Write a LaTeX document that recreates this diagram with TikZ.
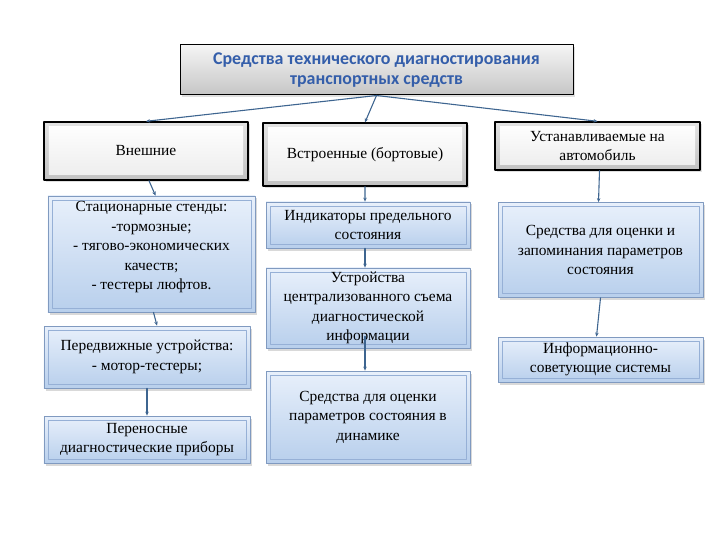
\documentclass[tikz,border=0pt]{standalone}
\usepackage{fontspec}
\setmainfont{Liberation Serif}
\newfontfamily\titlefont{Carlito}
\usetikzlibrary{arrows.meta,calc,positioning,shadows}
\definecolor{linkblue}{RGB}{62,101,144}
\definecolor{titleblue}{RGB}{52,94,170}
\definecolor{itemtop}{RGB}{232,240,251}
\definecolor{itembottom}{RGB}{184,207,236}
\definecolor{itemedge}{RGB}{128,154,192}
\definecolor{itemline}{RGB}{150,176,214}
\tikzset{
  every picture/.append style={line cap=round,line join=round},
  diag title/.style={draw=black,line width=1pt,top color=gray!8,bottom color=gray!45,
    inner sep=0pt,align=center,text=titleblue,
    font=\titlefont\bfseries\fontsize{18}{20.5}\selectfont,
    drop shadow={shadow xshift=2bp,shadow yshift=-2bp,opacity=0.25}},
  diag group/.style={draw=black,line width=1.4pt,top color=gray!22,bottom color=gray!48,
    inner sep=0pt,align=center,font=\fontsize{15.5}{19.5}\selectfont,
    drop shadow={shadow xshift=2bp,shadow yshift=-2bp,opacity=0.25},
    path picture={\shade[top color=white,bottom color=gray!15]
      ($(path picture bounding box.north west)+(5,5)$) rectangle
      ($(path picture bounding box.south east)+(-5,-5)$);}},
  diag item/.style={draw=itemedge,line width=0.8pt,top color=itemtop,bottom color=itembottom,
    inner sep=0pt,align=center,font=\fontsize{15.5}{19.5}\selectfont,
    drop shadow={shadow xshift=2bp,shadow yshift=-2.5bp,opacity=0.3},
    path picture={\draw[itemline,line width=0.8pt]
      ($(path picture bounding box.north west)+(4,4)$) rectangle
      ($(path picture bounding box.south east)+(-4,-4)$);}},
  diag link/.style={linkblue,line width=1.1pt,-{Stealth[length=4bp,width=3.5bp]}}
}
\begin{document}
\begin{tikzpicture}[x=1bp,y=-1bp]
  \useasboundingbox (0,0) rectangle (720,540);
  \node[diag title,minimum width=393bp,minimum height=50bp] (title) at (376.5,70)
    {Средства технического диагностирования\\транспортных средств};
  \node[diag group,minimum width=204bp,minimum height=58bp] (ext) at (146,151) {Внешние};
  \node[diag group,minimum width=204bp,minimum height=63bp] (emb) at (365,154.5) {Встроенные (бортовые)};
  \node[diag group,minimum width=205bp,minimum height=48bp] (inst) at (597.5,146) {Устанавливаемые на\\автомобиль};
  \node[diag item,minimum width=207bp,minimum height=116bp,text depth=17bp] (stat) at (151.5,254)
    {Стационарные стенды:\\-тормозные;\\- тягово-экономических\\качеств;\\- тестеры люфтов.};
  \node[diag item,minimum width=206bp,minimum height=62bp] (mob) at (147,357)
    {Передвижные устройства:\\- мотор-тестеры;};
  \node[diag item,minimum width=206bp,minimum height=47bp] (port) at (147,439.5)
    {Переносные\\диагностические приборы};
  \node[diag item,minimum width=204bp,minimum height=46bp] (ind) at (368,225)
    {Индикаторы предельного\\состояния};
  \node[diag item,minimum width=204bp,minimum height=80bp] (cent) at (368,308)
    {Устройства\\централизованного съема\\диагностической\\информации};
  \node[diag item,minimum width=204bp,minimum height=92bp] (dyn) at (368,417)
    {Средства для оценки\\параметров состояния в\\динамике};
  \node[diag item,minimum width=205bp,minimum height=95bp] (eval) at (600.5,250)
    {Средства для оценки и\\запоминания параметров\\состояния};
  \node[diag item,minimum width=205bp,minimum height=45bp] (info) at (600.5,359.5)
    {Информационно-\\советующие системы};
  \foreach \g in {ext,emb,inst}
    \draw[diag link] (title.south) -- (\g.north);
  \draw[diag link] ([xshift=3bp]ext.south) -- ([xshift=4bp]stat.north);
  \draw[diag link] ([xshift=2bp]stat.south) -- ([xshift=10bp]mob.north);
  \draw[diag link] (mob.south) -- (port.north);
  \draw[diag link] (emb.south) -- ([xshift=-3bp]ind.north);
  \draw[diag link] ([xshift=-3bp]ind.south) -- ([xshift=-3bp]cent.north);
  \draw[diag link] ([xshift=-3bp,yshift=12bp]cent.south) -- ([xshift=-3bp]dyn.north);
  \draw[diag link] ([xshift=2bp]inst.south) -- ([xshift=-2bp]eval.north);
  \draw[diag link] (eval.south) -- ([xshift=-4bp]info.north);
\end{tikzpicture}
\end{document}
